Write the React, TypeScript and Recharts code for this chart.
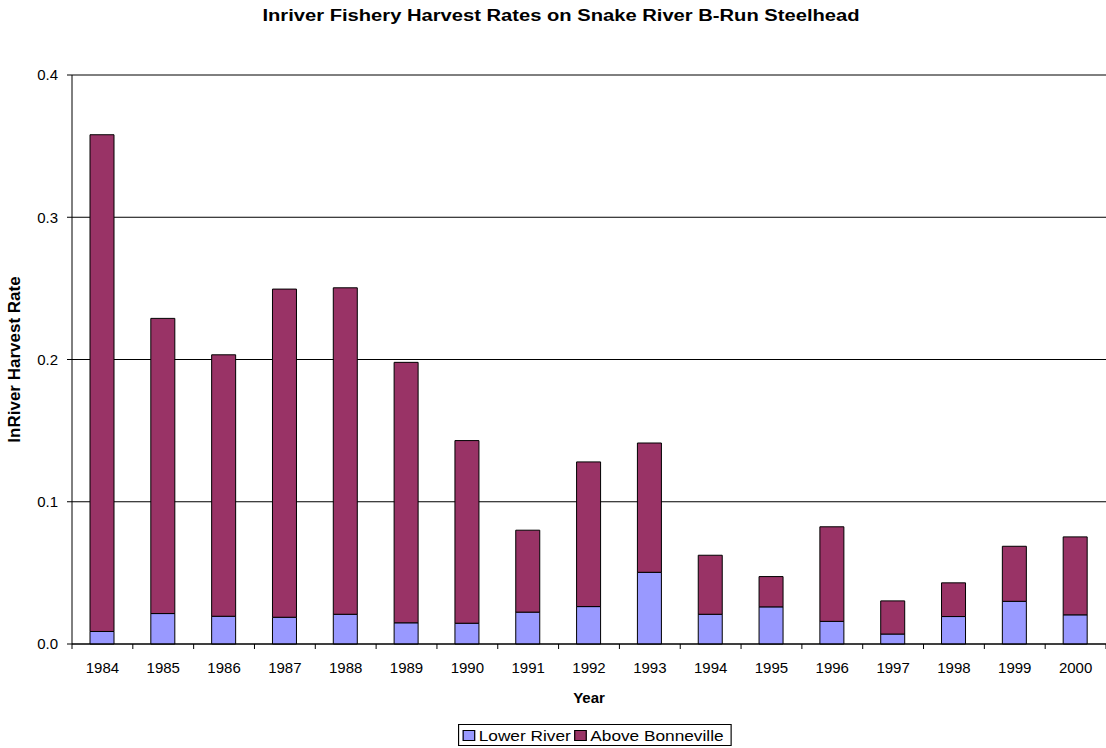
import { BarChart, Bar, XAxis, YAxis, CartesianGrid } from 'recharts';

const years = [
  '1984', '1985', '1986', '1987', '1988', '1989', '1990', '1991', '1992',
  '1993', '1994', '1995', '1996', '1997', '1998', '1999', '2000',
];
const lowerRiver = [
  0.0088, 0.0214, 0.0195, 0.0188, 0.0209, 0.0149, 0.0146, 0.0224, 0.0263,
  0.0504, 0.0209, 0.0261, 0.0159, 0.007, 0.0193, 0.03, 0.0205,
];
const aboveBonneville = [
  0.3492, 0.2075, 0.1838, 0.2307, 0.2295, 0.1831, 0.1284, 0.0576, 0.1017,
  0.0909, 0.0415, 0.0213, 0.0665, 0.0233, 0.0237, 0.0387, 0.0548,
];
const yTicks = [0, 0.1, 0.2, 0.3, 0.4];

const LOWER_COLOR = '#9999FF';
const ABOVE_COLOR = '#993366';
const FONT = '"Liberation Sans", Arial, sans-serif';

const data = years.map((year, i) => ({
  year,
  lower: lowerRiver[i],
  above: aboveBonneville[i],
}));

const YearTick = (props: any) => {
  const { x, y, payload, index } = props;
  const half = payload.offset ?? 30.4;
  return (
    <g>
      <line x1={x - half} y1={y - 8} x2={x - half} y2={y - 3} stroke="#000" />
      {index === years.length - 1 && (
        <line x1={x + half} y1={y - 8} x2={x + half} y2={y - 3} stroke="#000" />
      )}
      <text x={x} y={y + 21} textAnchor="middle" fontSize={15} fill="#000" fontFamily={FONT}>
        {payload.value}
      </text>
    </g>
  );
};

const YLabel = (props: any) => {
  const { viewBox } = props;
  const cy = viewBox.y + viewBox.height / 2;
  return (
    <text
      x={20}
      y={cy}
      transform={`rotate(-90 20 ${cy})`}
      textAnchor="middle"
      fontSize={17}
      fontWeight="bold"
      fill="#000"
      fontFamily={FONT}
    >
      InRiver Harvest Rate
    </text>
  );
};

const legendItems = [
  { name: 'Lower River', color: LOWER_COLOR },
  { name: 'Above Bonneville', color: ABOVE_COLOR },
];

export default function App() {
  return (
    <div
      style={{
        position: 'absolute',
        left: 0,
        top: 0,
        width: 1106,
        height: 748,
        background: '#fff',
        fontFamily: FONT,
      }}
    >
      <div
        style={{
          position: 'absolute',
          top: 7,
          left: 0,
          width: 1122,
          textAlign: 'center',
          fontSize: 16,
          fontWeight: 'bold',
          transform: 'scaleX(1.26)',
        }}
      >
        Inriver Fishery Harvest Rates on Snake River B-Run Steelhead
      </div>
      <BarChart
        width={1106}
        height={748}
        data={data}
        margin={{ top: 75, right: 0, bottom: 44, left: 0 }}
        barSize={24}
      >
        <CartesianGrid vertical={false} stroke="#000" strokeWidth={1} />
        <XAxis
          dataKey="year"
          stroke="#000"
          tickLine={false}
          tick={<YearTick />}
          height={60}
          interval={0}
          label={{
            value: 'Year',
            position: 'insideBottom',
            offset: 1,
            fontSize: 15,
            fontWeight: 'bold',
            fill: '#000',
            fontFamily: FONT,
          }}
        />
        <YAxis
          width={72}
          domain={[0, 0.4]}
          ticks={yTicks}
          stroke="#000"
          tickSize={5}
          tickMargin={9}
          tickFormatter={(v: number) => v.toFixed(1)}
          tick={{ fontSize: 15, fill: '#000', fontFamily: FONT }}
          label={<YLabel />}
        />
        <Bar dataKey="lower" stackId="a" fill={LOWER_COLOR} stroke="#000" strokeWidth={1} isAnimationActive={false} />
        <Bar dataKey="above" stackId="a" fill={ABOVE_COLOR} stroke="#000" strokeWidth={1} isAnimationActive={false} />
      </BarChart>
      <div
        style={{
          position: 'absolute',
          left: 458,
          top: 724,
          height: 20,
          border: '1px solid #000',
          display: 'flex',
          alignItems: 'center',
          padding: '0 3px',
          fontSize: 15,
          background: '#fff',
          transform: 'scaleX(1.15)',
          transformOrigin: 'left center',
        }}
      >
        {legendItems.map((item) => (
          <div key={item.name} style={{ display: 'flex', alignItems: 'center', marginRight: 3 }}>
            <div
              style={{
                width: 9,
                height: 9,
                background: item.color,
                border: '1px solid #000',
                marginRight: 3,
              }}
            />
            <span>{item.name}</span>
          </div>
        ))}
      </div>
    </div>
  );
}
